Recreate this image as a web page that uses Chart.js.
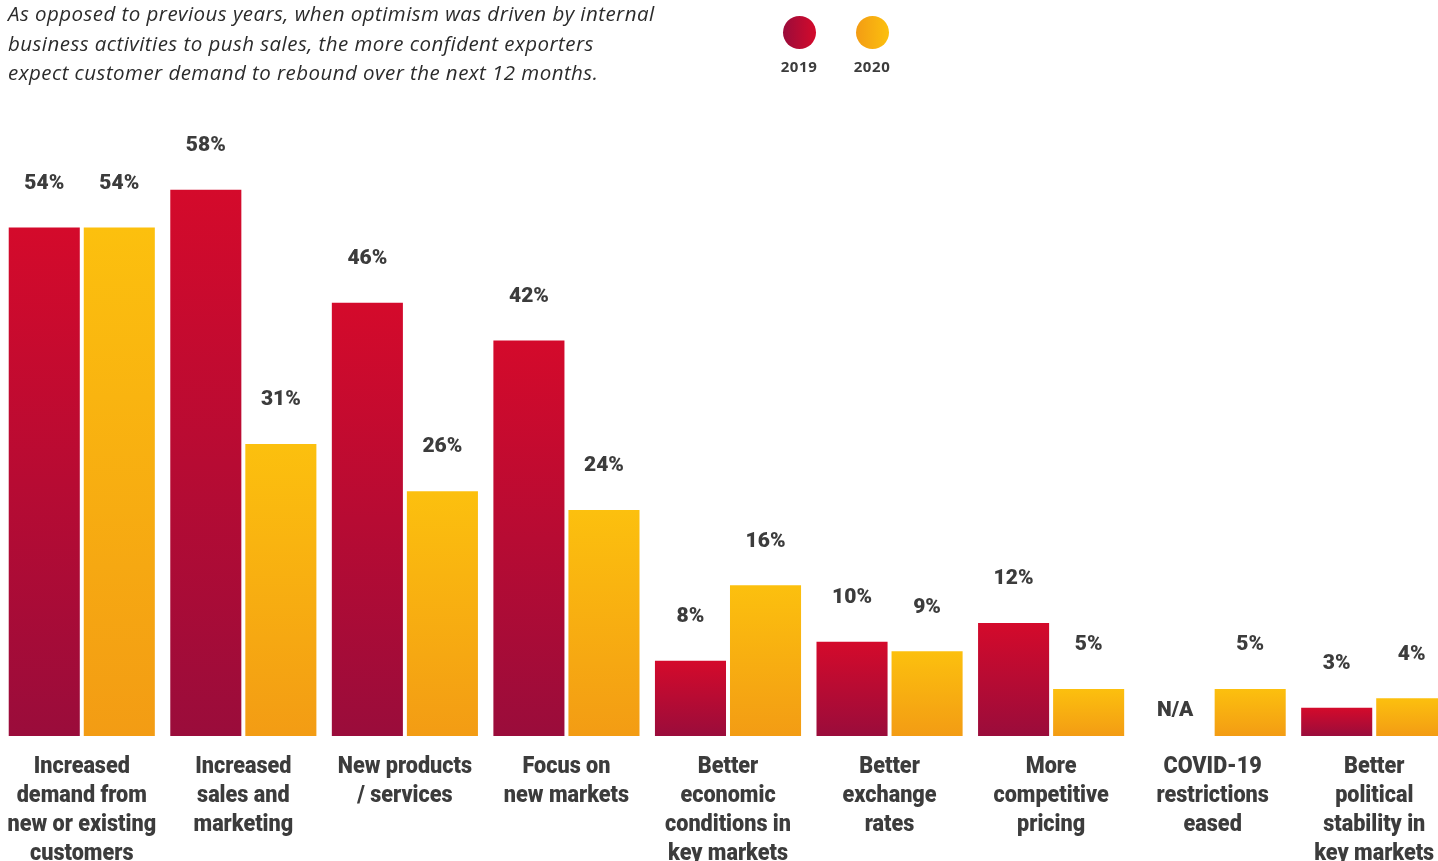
<!DOCTYPE html>
<html>
<head>
<meta charset="utf-8">
<script src="https://cdn.jsdelivr.net/npm/chart.js@4.4.0/dist/chart.umd.min.js"></script>
<style>
  html, body { margin: 0; padding: 0; background: #ffffff; overflow: hidden; width: 1438px; height: 861px; }
  #wrap { position: absolute; left: 0; top: 0; width: 1456px; height: 861px; }
  #title { position: absolute; left: 8px; top: -1px; font-family: 'Open Sans', sans-serif; font-style: italic; font-size: 20.5px; letter-spacing: 0.45px; line-height: 29.5px; color: #2b2b2b; white-space: nowrap; }
  .leg { position: absolute; top: 16px; width: 60px; text-align: center; font-family: 'Open Sans', sans-serif; font-weight: 700; font-size: 15px; letter-spacing: 0.6px; color: #3c3c3c; line-height: 18px; }
  .leg .dot { width: 33px; height: 33px; border-radius: 50%; margin: 0 auto 8px auto; }
</style>
</head>
<body>
<div id="wrap"><canvas id="c"></canvas></div>
<div id="title">As opposed to previous years, when optimism was driven by internal<br>business activities to push sales, the more confident exporters<br>expect customer demand to rebound over the next 12 months.</div>
<div class="leg" style="left:769px"><div class="dot" style="background:linear-gradient(90deg,#9a0c3b,#d40a2b)"></div>2019</div>
<div class="leg" style="left:842px"><div class="dot" style="background:linear-gradient(90deg,#f39c14,#fcc00e)"></div>2020</div>
<script>
const categories = [
  ["Increased", "demand from", "new or existing", "customers"],
  ["Increased", "sales and", "marketing"],
  ["New products", "/ services"],
  ["Focus on", "new markets"],
  ["Better", "economic", "conditions in", "key markets"],
  ["Better", "exchange", "rates"],
  ["More", "competitive", "pricing"],
  ["COVID-19", "restrictions", "eased"],
  ["Better", "political", "stability in", "key markets"]
];
const seriesNames = ["2019", "2020"];
const values2019 = [54, 58, 46, 42, 8, 10, 12, null, 3];
const values2020 = [54, 31, 26, 24, 16, 9, 5, 5, 4];

const labelFont = "Roboto, 'DejaVu Sans', sans-serif";

function vGrad(top, bottom) {
  return function (ctx) {
    const chart = ctx.chart;
    const area = chart.chartArea;
    if (!area || ctx.type !== 'data' || ctx.raw == null) return top;
    const ys = chart.scales.y;
    const y0 = ys.getPixelForValue(ctx.raw);
    const y1 = ys.getPixelForValue(0);
    if (!isFinite(y0) || !isFinite(y1) || y0 === y1) return top;
    const g = chart.ctx.createLinearGradient(0, y0, 0, y1);
    g.addColorStop(0, top);
    g.addColorStop(1, bottom);
    return g;
  };
}

const valueLabels = {
  id: 'valueLabels',
  afterDatasetsDraw(chart) {
    const c = chart.ctx;
    const base = chart.scales.y.getPixelForValue(0);
    c.save();
    c.fillStyle = '#3c3c3c';
    c.textAlign = 'center';
    c.textBaseline = 'middle';
    c.font = "900 21px " + labelFont;
    chart.data.datasets.forEach((ds, di) => {
      const meta = chart.getDatasetMeta(di);
      meta.data.forEach((el, i) => {
        const v = ds.data[i];
        if (v == null) {
          c.fillText('N/A', el.x, base - 25);
        } else {
          c.fillText(v + '%', el.x, el.y - 44);
        }
      });
    });
    // category labels under the axis
    c.font = "900 24px " + labelFont;
    const xs = chart.scales.x;
    chart.data.labels.forEach((lines, i) => {
      const x = xs.getPixelForValue(i);
      lines.forEach((line, k) => {
        c.save();
        c.translate(x, base + 31 + k * 29);
        c.scale(0.9, 1);
        c.fillText(line, 0, 0);
        c.restore();
      });
    });
    c.restore();
  }
};

new Chart(document.getElementById('c'), {
  type: 'bar',
  data: {
    labels: categories,
    datasets: [
      { label: seriesNames[0], data: values2019, backgroundColor: vGrad('#d40a2b', '#9a0c3b'), borderWidth: 0 },
      { label: seriesNames[1], data: values2020, backgroundColor: vGrad('#fcc00e', '#f39c14'), borderWidth: 0 }
    ]
  },
  options: {
    responsive: true,
    maintainAspectRatio: false,
    animation: false,
    categoryPercentage: 0.929,
    barPercentage: 0.947,
    layout: { padding: { left: 1, right: 1, top: 171, bottom: 125 } },
    plugins: { legend: { display: false }, tooltip: { enabled: false } },
    scales: {
      x: { display: false, offset: true },
      y: { display: false, min: 0, max: 60 }
    }
  },
  plugins: [valueLabels]
});
</script>
</body>
</html>
